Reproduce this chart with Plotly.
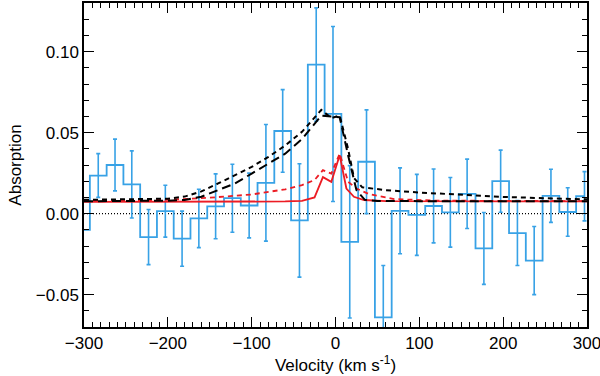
import plotly.graph_objects as go

# binned absorption data (bin centres in km/s)
vel = [-303, -283, -263, -243, -223, -203, -183, -163, -143, -123, -103,
       -83, -63, -43, -23, -3, 17, 37, 57, 77, 97, 117, 137, 157, 177,
       197, 217, 237, 257, 277, 297]
absorp = [-0.010, 0.0235, 0.030, 0.018, -0.0145, 0.0015, -0.0155, -0.003,
          0.0045, 0.0095, 0.005, 0.019, 0.051, -0.0042, 0.092, 0.0615,
          -0.0174, 0.032, -0.064, 0.0017, -0.0008, 0.0047, 0.0008, 0.0122,
          -0.0215, 0.020, -0.012, -0.029, 0.011, 0.001, 0.0107]
err = [0.015, 0.0135, 0.016, 0.0207, 0.017, 0.016, 0.017, 0.018, 0.020,
       0.021, 0.020, 0.036, 0.0255, 0.035, 0.035, 0.054, 0.047, 0.032,
       0.032, 0.0265, 0.025, 0.0228, 0.0215, 0.0214, 0.0222, 0.0192,
       0.020, 0.021, 0.0164, 0.015, 0.0152]

# model curves
va = [-300, -250, -200, -180, -160, -140, -120, -100, -80, -60, -40, -17,
      -5, 5, 15, 22, 32, 60, 100, 150, 200, 250, 300]
model_a = [0.0085, 0.0088, 0.0092, 0.0105, 0.0137, 0.0186, 0.0237, 0.0288,
           0.035, 0.042, 0.0505, 0.064, 0.059, 0.0605, 0.040, 0.022, 0.0162,
           0.0145, 0.013, 0.0115, 0.0103, 0.0095, 0.0088]

vb = [-300, -250, -200, -180, -160, -140, -120, -100, -80, -60, -40, -17,
      -5, 5, 15, 25, 35, 50, 100, 200, 300]
model_b = [0.0076, 0.0077, 0.008, 0.0084, 0.0104, 0.0145, 0.0186, 0.0247,
           0.031, 0.037, 0.046, 0.0605, 0.060, 0.0595, 0.036, 0.0145, 0.0085,
           0.0078, 0.0077, 0.0076, 0.0076]

vr = [-300, -200, -100, -60, -40, -25, -15, -5, 5, 13, 22, 34, 60, 300]
model_r = [0.0072, 0.0072, 0.0073, 0.0075, 0.0078, 0.010, 0.0225, 0.0196,
           0.036, 0.0155, 0.0104, 0.0084, 0.0077, 0.0075]

vrd = [-300, -250, -200, -150, -100, -60, -40, -25, -15, -5, 5, 15, 25, 40,
       70, 120, 200, 300]
model_rd = [0.0078, 0.008, 0.0085, 0.0098, 0.0118, 0.015, 0.0176, 0.0207,
            0.0268, 0.0247, 0.037, 0.0196, 0.0155, 0.012, 0.009, 0.008,
            0.0078, 0.0077]

blue = "#38a2e6"
red = "#ec1c24"
font = "Liberation Sans, Arial"

fig = go.Figure()
fig.add_trace(go.Scatter(x=[-300, 300], y=[0, 0], mode="lines",
                         line=dict(color="black", width=1.2, dash="1px,2px")))
fig.add_trace(go.Scatter(x=vel, y=absorp, mode="lines", line_shape="hvh",
                         line=dict(color=blue, width=1.8)))
fig.add_trace(go.Scatter(x=vel, y=absorp, mode="markers",
                         marker=dict(size=0.1, color=blue),
                         error_y=dict(type="data", array=err, color=blue,
                                      thickness=1.6, width=2)))
fig.add_trace(go.Scatter(x=vr, y=model_r, mode="lines",
                         line=dict(color=red, width=1.8)))
fig.add_trace(go.Scatter(x=vrd, y=model_rd, mode="lines",
                         line=dict(color=red, width=1.8, dash="5px,4px")))
fig.add_trace(go.Scatter(x=vb, y=model_b, mode="lines",
                         line=dict(color="black", width=2, dash="9px,5px")))
fig.add_trace(go.Scatter(x=va, y=model_a, mode="lines",
                         line=dict(color="black", width=2, dash="5px,4px")))

axis_common = dict(showline=True, linecolor="black", linewidth=1.5,
                   mirror="allticks", ticks="inside", ticklen=10,
                   tickwidth=1.3, tickcolor="black", showgrid=False,
                   zeroline=False, automargin=False,
                   ticklabeloverflow="allow",
                   tickfont=dict(family=font, size=17, color="black"))

fig.update_xaxes(range=[-300, 300], dtick=100, tick0=0,
                 minor=dict(ticks="inside", ticklen=5, dtick=10,
                            tickcolor="black", tickwidth=1),
                 title=dict(text="Velocity (km s<sup>-1</sup>)", standoff=0,
                            font=dict(family=font, size=17, color="black")),
                 **axis_common)
fig.update_yaxes(range=[-0.07, 0.13], dtick=0.05, tick0=0, tickformat=".2f",
                 minor=dict(ticks="inside", ticklen=5, dtick=0.01,
                            tickcolor="black", tickwidth=1),
                 title=dict(text="Absorption", standoff=10,
                            font=dict(family=font, size=17, color="black")),
                 **axis_common)

fig.update_layout(width=600, height=376, showlegend=False,
                  margin=dict(l=84, r=13, t=3, b=49),
                  plot_bgcolor="white", paper_bgcolor="white")

# page body has a default margin; remove it so the figure sits at 0,0
fig.write_html("out.html", config={"displayModeBar": False},
               post_script="document.body.style.margin='0';")
